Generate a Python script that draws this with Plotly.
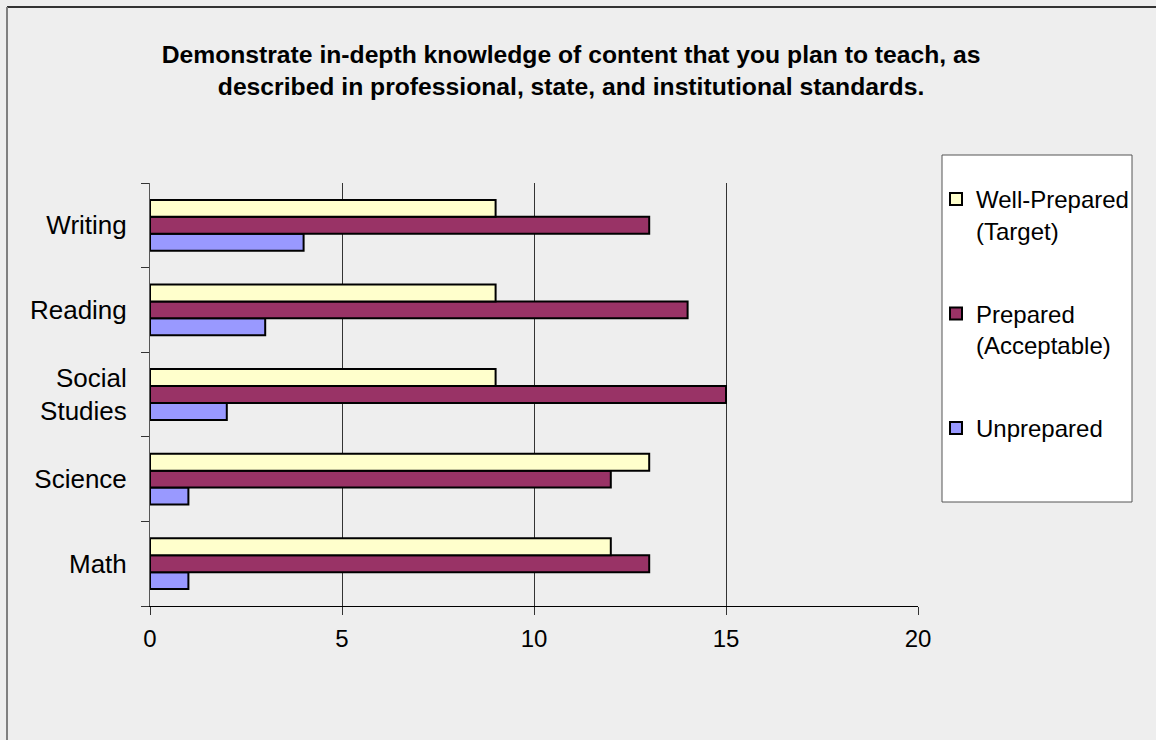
import plotly.graph_objects as go

# Survey responses per subject area
categories = ["Math", "Science", "Social<br>Studies", "Reading", "Writing"]
well_prepared = [12, 13, 9, 9, 9]
prepared = [13, 12, 15, 14, 13]
unprepared = [1, 1, 2, 3, 4]

series_names = ["Well-Prepared<br>(Target)", "Prepared<br>(Acceptable)", "Unprepared"]
x_ticks = [0, 5, 10, 15, 20]

COL_WELL = "#FFFFCC"
COL_PREP = "#993366"
COL_UNPREP = "#9999FF"
FONT = "Liberation Sans, Arial, sans-serif"

fig = go.Figure()
# Traces are added bottom-to-top so Well-Prepared sits on top in each group
for name, vals, col, rank in [
    (series_names[2], unprepared, COL_UNPREP, 3),
    (series_names[1], prepared, COL_PREP, 2),
    (series_names[0], well_prepared, COL_WELL, 1),
]:
    fig.add_trace(go.Bar(
        y=categories, x=vals, name=name, orientation="h",
        marker=dict(color=col, line=dict(color="black", width=2)),
        legendgroup=str(rank), legendrank=rank,
    ))

fig.update_layout(
    width=1156, height=740,
    paper_bgcolor="#EEEEEE", plot_bgcolor="#EEEEEE",
    margin=dict(l=150, r=238, t=183, b=134, autoexpand=False),
    barmode="group", bargap=0.4, bargroupgap=0,
    font=dict(family=FONT, size=24, color="black"),
    title=dict(
        text="Demonstrate in-depth knowledge of content that you plan to teach, as<br>"
             "described in professional, state, and institutional standards.",
        x=0.494, xanchor="center", y=1 - 63 / 740, yanchor="middle",
        font=dict(family=FONT, size=24.7, color="black", weight="bold"),
    ),
    xaxis=dict(
        range=[0, 20], tickvals=x_ticks, showgrid=True, gridcolor="#333333", gridwidth=1,
        zeroline=False, showline=True, linecolor="black", linewidth=1,
        ticks="outside", ticklen=8, tickcolor="#333333",
        tickfont=dict(size=24), ticklabelstandoff=3, fixedrange=True,
    ),
    yaxis=dict(
        showgrid=False, showline=True, linecolor="#555555", linewidth=1,
        ticks="outside", ticklen=8, tickson="boundaries", tickcolor="#333333",
        tickfont=dict(size=26), ticklabelstandoff=17,
    ),
    legend=dict(
        x=936 / 1156, xanchor="left", y=1 - 177 / 740, yanchor="top",
        xref="container", yref="container",
        traceorder="grouped", tracegroupgap=49, valign="top",
        bgcolor="rgba(0,0,0,0)", borderwidth=0,
        font=dict(size=24), itemwidth=30,
    ),
    shapes=[
        # legend panel
        dict(type="rect", xref="paper", yref="paper",
             x0=(942 - 150) / 768, x1=(1132 - 150) / 768,
             y0=(740 - 134 - 502) / 423, y1=(740 - 134 - 155) / 423,
             fillcolor="white", line=dict(color="#555555", width=1), layer="below"),
        # outer frame
        dict(type="line", xref="paper", yref="paper",
             x0=(7 - 150) / 768, x1=(1160 - 150) / 768,
             y0=(740 - 134 - 7) / 423, y1=(740 - 134 - 7) / 423,
             line=dict(color="#333333", width=2)),
        dict(type="line", xref="paper", yref="paper",
             x0=(7 - 150) / 768, x1=(7 - 150) / 768,
             y0=(740 - 134 - 7) / 423, y1=-(150) / 423,
             line=dict(color="#808080", width=2)),
    ],
)

fig.write_html("out.html")
